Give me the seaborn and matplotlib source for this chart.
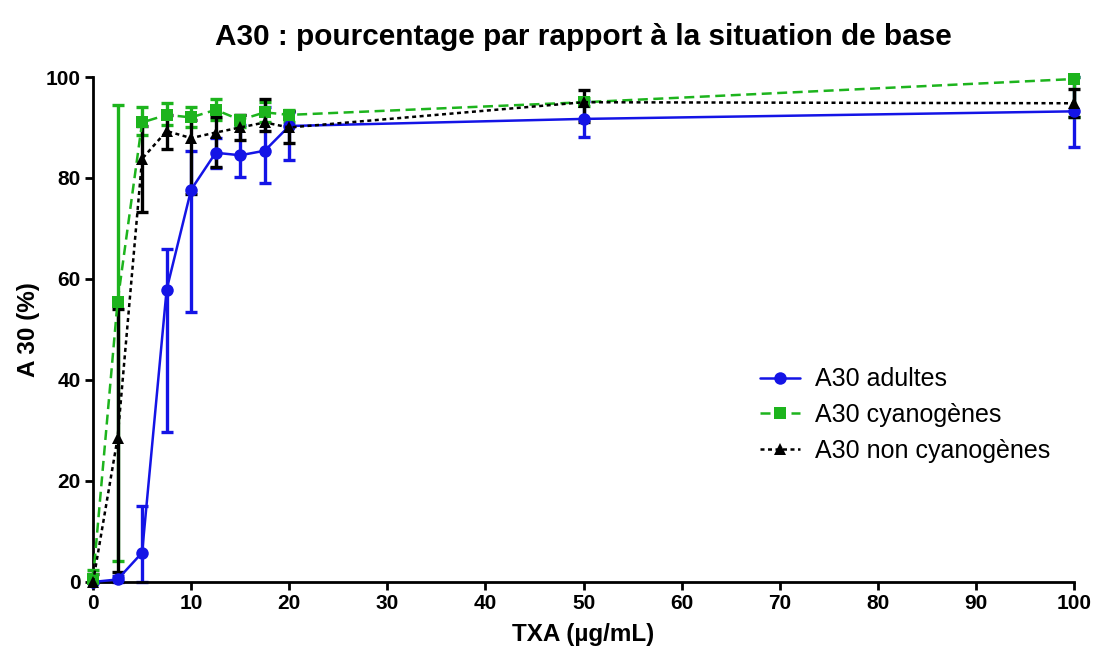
import numpy as np
import pandas as pd
import matplotlib
matplotlib.use("Agg")
import matplotlib.pyplot as plt
import seaborn as sns

# TXA concentrations (µg/mL)
txa = [0, 2.5, 5, 7.5, 10, 12.5, 15, 17.5, 20, 50, 100]

# A30 adultes: mean, lower end and upper end of the error bar
adultes = [0.0, 0.5, 5.8, 57.9, 77.7, 85.0, 84.5, 85.4, 90.3, 91.7, 93.2]
adultes_lo = [0.0, 0.0, 0.0, 29.7, 53.4, 82.0, 80.1, 79.1, 83.5, 88.2, 86.1]
adultes_hi = [0.0, 1.2, 15.0, 65.9, 85.4, 88.0, 90.5, 94.0, 93.0, 95.2, 100.0]

# A30 cyanogènes
cyano = [0.6, 55.5, 91.0, 92.5, 92.0, 93.5, 91.5, 93.0, 92.5, 95.0, 99.6]
cyano_lo = [0.0, 4.1, 88.5, 90.5, 90.0, 91.5, 90.0, 91.0, 91.0, 94.2, 92.1]
cyano_hi = [2.4, 94.4, 94.0, 94.8, 94.0, 95.6, 92.5, 95.0, 93.5, 95.8, 100.0]

# A30 non cyanogènes
non_cyano = [0.0, 28.5, 83.8, 89.3, 87.9, 89.0, 90.0, 91.0, 90.0, 95.0, 94.8]
non_cyano_lo = [0.0, 2.0, 73.3, 85.7, 76.8, 82.1, 87.5, 89.3, 86.9, 91.0, 92.0]
non_cyano_hi = [1.5, 54.0, 90.2, 92.4, 91.4, 92.0, 92.4, 95.6, 93.2, 97.5, 97.6]

series_names = ["A30 adultes", "A30 cyanogènes", "A30 non cyanogènes"]
colors = {"A30 adultes": "#1414E6", "A30 cyanogènes": "#1DB41D", "A30 non cyanogènes": "#000000"}
markers = {"A30 adultes": "o", "A30 cyanogènes": "s", "A30 non cyanogènes": "^"}
dashes = {"A30 adultes": "", "A30 cyanogènes": (4, 2.2), "A30 non cyanogènes": (1.6, 1.4)}

x_ticks = [0, 10, 20, 30, 40, 50, 60, 70, 80, 90, 100]
y_ticks = [0, 20, 40, 60, 80, 100]

sns.set_theme(style="ticks")
plt.rcParams["font.family"] = ["Liberation Sans", "DejaVu Sans"]
plt.rcParams.update({"text.color": "black", "axes.labelcolor": "black",
                     "xtick.color": "black", "ytick.color": "black"})

frames = []
for name, vals in zip(series_names, [adultes, cyano, non_cyano]):
    frames.append(pd.DataFrame({"TXA": txa, "A30": vals, "serie": name}))
df = pd.concat(frames, ignore_index=True)

fig = plt.figure(figsize=(10.96, 6.57), dpi=100)
ax = fig.add_axes([0.0849, 0.1142, 0.8951, 0.7686])

# error bars, drawn beneath the connecting lines
err_sets = {
    "A30 adultes": (adultes, adultes_lo, adultes_hi, 2),
    "A30 cyanogènes": (cyano, cyano_lo, cyano_hi, 3),
    "A30 non cyanogènes": (non_cyano, non_cyano_lo, non_cyano_hi, 4),
}
for name, (m, lo, hi, z) in err_sets.items():
    m = np.array(m)
    yerr = np.vstack([m - np.array(lo), np.array(hi) - m])
    ax.errorbar(txa, m, yerr=yerr, fmt="none", ecolor=colors[name],
                elinewidth=2.4, capsize=4.6, capthick=2.4, zorder=z, clip_on=False)

sns.lineplot(data=df, x="TXA", y="A30", hue="serie", style="serie",
             palette=colors, markers=markers, dashes=dashes,
             hue_order=series_names, style_order=series_names,
             linewidth=1.8, markersize=9, markeredgewidth=0,
             ax=ax, legend="full", zorder=5, clip_on=False)

ax.set_xlim(0, 100)
ax.set_ylim(0, 100)
ax.set_xticks(x_ticks)
ax.set_yticks(y_ticks)

for side in ["top", "right"]:
    ax.spines[side].set_visible(False)
for side in ["left", "bottom"]:
    ax.spines[side].set_linewidth(2.0)
    ax.spines[side].set_color("black")
ax.tick_params(axis="both", which="major", direction="out", length=6, width=2.0,
               color="black", pad=3, labelsize=15)

for lbl in ax.get_xticklabels() + ax.get_yticklabels():
    lbl.set_fontweight("bold")
    lbl.set_color("black")

ax.set_xlabel("TXA (µg/mL)", fontweight="bold", fontsize=17.5, labelpad=7)
ax.set_ylabel("A 30 (%)", fontweight="bold", fontsize=17.5, labelpad=4)
ax.set_title("A30 : pourcentage par rapport à la situation de base",
             fontweight="bold", fontsize=21.4, pad=23, color="black")

handles, labels = ax.get_legend_handles_labels()
leg = ax.legend(handles, labels, loc="upper left", bbox_to_anchor=(0.68, 0.425),
                frameon=False, fontsize=18, handlelength=1.6, handletextpad=0.6,
                labelspacing=0.47, borderaxespad=0, borderpad=0, numpoints=1)
for t in leg.get_texts():
    t.set_color("black")

ax.grid(False)
fig.savefig("out.png", dpi=100)
